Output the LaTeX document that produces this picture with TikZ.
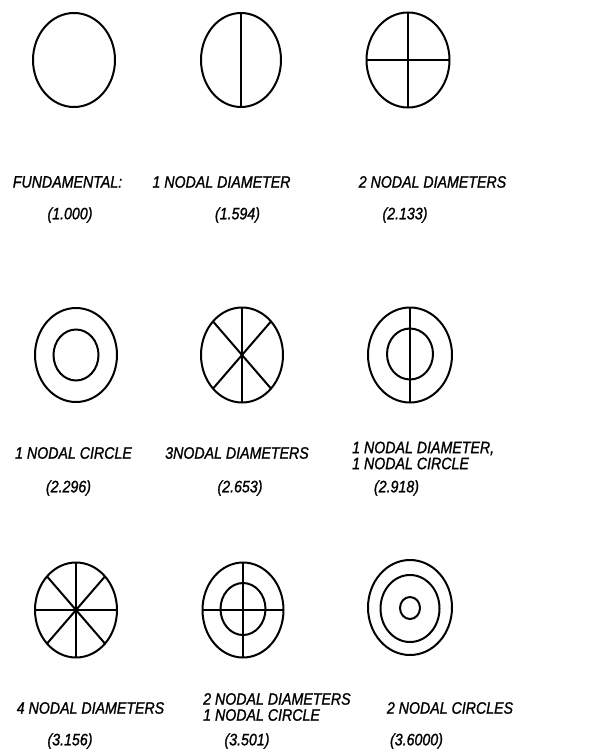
\documentclass[tikz,border=0pt]{standalone}
\usepackage{fontspec}
\newfontfamily\handfont[FakeStretch=0.86,FakeBold=1.2]{Liberation Sans}
\begin{document}
\begin{tikzpicture}[x=1pt,y=-1pt,
  ring/.style={line width=2pt},
  lbl/.style={font=\handfont\itshape\fontsize{16.5}{16}\selectfont,inner sep=0pt},
  twolbl/.style={lbl,align=left,anchor=west}]
  \useasboundingbox (0,0) rectangle (600,752);
  % row 1
  \draw[ring] (74,60) ellipse (41 and 47);
  \draw[ring] (241,60) ellipse (40 and 47);
  \draw[ring] (241,13)--(241,107);
  \draw[ring] (408,60) ellipse (41.5 and 47.5);
  \draw[ring] (408,12.5)--(408,107.5);
  \draw[ring] (366.5,60)--(449.5,60);
  \node[lbl] (fund) at (67.5,182) {FUNDAMENTAL:};
  \node[lbl] (onediam) at (221.5,182) {1 NODAL DIAMETER};
  \node[lbl] (twodiam) at (432.5,182) {2 NODAL DIAMETERS};
  \node[lbl] (fundval) at (70,215) {(1.000)};
  \node[lbl] (onediamval) at (237.5,215) {(1.594)};
  \node[lbl] (twodiamval) at (405,215) {(2.133)};
  % row 2
  \draw[ring] (76,355) ellipse (41 and 47);
  \draw[ring] (76,355) ellipse (22.5 and 25.5);
  \draw[ring] (242,355) ellipse (41 and 47.5);
  \foreach \a in {90,45,135}
    \draw[ring,shift={(242,355)}] (\a:41 and 47.5)--(\a+180:41 and 47.5);
  \draw[ring] (410,355) ellipse (42 and 47.5);
  \draw[ring] (410,354) ellipse (23 and 25.5);
  \draw[ring] (410,307.5)--(410,402.5);
  \node[lbl] (onecirc) at (73.5,453) {1 NODAL CIRCLE};
  \node[lbl] (threediam) at (237,453) {3NODAL DIAMETERS};
  \node[twolbl] (diamcirc) at (352,455.5) {1 NODAL DIAMETER,\\1 NODAL CIRCLE};
  \node[lbl] (onecircval) at (68.5,488) {(2.296)};
  \node[lbl] (threediamval) at (240,488) {(2.653)};
  \node[lbl] (diamcircval) at (396.5,488) {(2.918)};
  % row 3
  \draw[ring] (76,610) ellipse (41 and 47.5);
  \foreach \a in {0,45,90,135}
    \draw[ring,shift={(76,610)}] (\a:41 and 47.5)--(\a+180:41 and 47.5);
  \draw[ring] (243,610) ellipse (40.5 and 47.5);
  \draw[ring] (243,609) ellipse (22.5 and 26);
  \draw[ring] (243,562.5)--(243,657.5);
  \draw[ring] (202.5,610)--(283.5,610);
  \draw[ring] (410,607.5) ellipse (42 and 47.5);
  \draw[ring] (410,608.5) ellipse (29.5 and 33.5);
  \draw[ring] (410,608) ellipse (10 and 11);
  \node[lbl] (fourdiam) at (90.5,708) {4 NODAL DIAMETERS};
  \node[twolbl] (twodiamcirc) at (203,707) {2 NODAL DIAMETERS\\1 NODAL CIRCLE};
  \node[lbl] (twocirc) at (450,708) {2 NODAL CIRCLES};
  \node[lbl] (fourdiamval) at (70,741) {(3.156)};
  \node[lbl] (twodiamcircval) at (247,741) {(3.501)};
  \node[lbl] (twocircval) at (416.5,741) {(3.6000)};
\end{tikzpicture}
\end{document}
